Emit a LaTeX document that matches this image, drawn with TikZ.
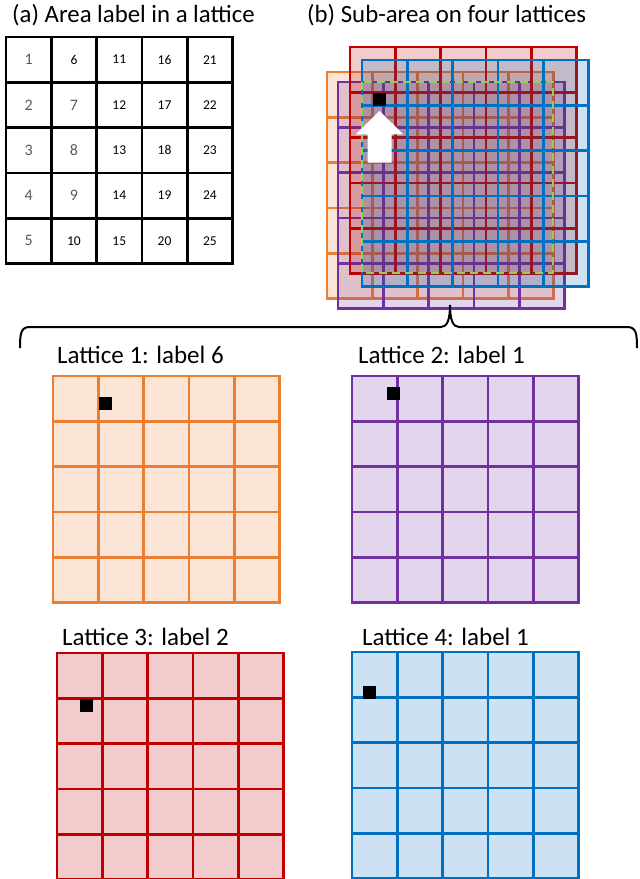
\documentclass[tikz,border=0pt]{standalone}
\usepackage{fontspec}
\setmainfont{Carlito}
\usetikzlibrary{positioning}
\definecolor{latorange}{HTML}{ED7D31}
\definecolor{latpurple}{HTML}{7030A0}
\definecolor{latred}{HTML}{C00000}
\definecolor{latblue}{HTML}{0070C0}
\definecolor{subgreen}{HTML}{92D050}
\definecolor{numgray}{HTML}{595959}
\newcommand{\cellsz}{45.3}
% 5x5 lattice: colour, top-left x, top-left y
\newcommand{\lattice}[3]{%
  \begin{scope}[shift={(#2,#3)}]
    \fill[#1, fill opacity=0.2] (0,0) rectangle (5*\cellsz,5*\cellsz);
    \foreach \i in {0,...,5}{
      \draw[latline, #1] (\i*\cellsz,0) -- (\i*\cellsz,5*\cellsz);
      \draw[latline, #1] (0,\i*\cellsz) -- (5*\cellsz,\i*\cellsz);
    }
  \end{scope}}
% black target cell, given the lattice's top-left corner
\newcommand{\target}[2]{\fill[black] (#1,#2) rectangle ++(13.3,13.3);}

\begin{document}
\begin{tikzpicture}[
  x=1pt, y=-1pt,
  title/.style={anchor=base west, inner sep=0pt, font=\fontsize{24.8}{28}\selectfont},
  latlabel/.style={anchor=base west, inner sep=0pt, font=\fontsize{25}{30}\selectfont},
  latline/.style={line width=2.7pt, line cap=rect},
  numlight/.style={text=numgray, font=\fontsize{16}{18}\selectfont},
  numdark/.style={text=black, font=\fontsize{13.5}{15}\selectfont}
]
\useasboundingbox (0,0) rectangle (640,879);
% --- (a) labels in one lattice ---
\node[title] (ta) at (12,22) {(a) Area label in a lattice};
\foreach \i in {0,...,5}{
  \draw[latline, black] (6+\i*\cellsz,37) -- (6+\i*\cellsz,37+5*\cellsz);
  \draw[latline, black] (6,37+\i*\cellsz) -- (6+5*\cellsz,37+\i*\cellsz);
}
\foreach \c in {0,...,4}
  \foreach \r in {0,...,4}{
    \pgfmathtruncatemacro\k{5*\c+\r+1}
    \pgfmathtruncatemacro\light{(\c==0)||((\c==1)&&(\r>0)&&(\r<4))}
    \ifnum\light=1 \tikzset{numstyle/.style={numlight}}\else\tikzset{numstyle/.style={numdark}}\fi
    \node[numstyle] (n\k) at (6+\c*\cellsz+0.5*\cellsz, 37+\r*\cellsz+0.5*\cellsz) {\k};
  }
% --- (b) four shifted lattices ---
\node[title] (tb) at (307,22) {(b) Sub-area on four lattices};
\lattice{latorange}{327}{72}
\lattice{latpurple}{338}{82}
\lattice{latred}{350}{47}
\lattice{latblue}{362}{60}
\draw[subgreen, line width=2.5pt, dash pattern=on 8pt off 5pt] (362,82) rectangle (553,273);
\target{373}{93}
\fill[white] (379.5,111) -- (403.3,134.3) -- (391.7,134.3) -- (391.7,162.7)
  -- (367.7,162.7) -- (367.7,134.3) -- (355.7,134.3) -- cycle;
% --- brace ---
\draw[line width=2pt] (20,348) .. controls (20,333) and (21,327) .. (30,327) -- (441,327)
  .. controls (447,327) and (450,320) .. (450,305)
  .. controls (450,320) and (453,327) .. (459,327) -- (627,327)
  .. controls (636,327) and (637,333) .. (637,348);
% --- the four lattices one by one ---
\node[latlabel] (l1) at (57,363) {Lattice 1: label 6};
\lattice{latorange}{53}{376}
\target{99}{397}
\node[latlabel] (l2) at (358,363) {Lattice 2: label 1};
\lattice{latpurple}{352}{376}
\target{387}{387}
\node[latlabel] (l3) at (62,645) {Lattice 3: label 2};
\lattice{latred}{57}{653}
\target{79.5}{699}
\node[latlabel] (l4) at (362,645) {Lattice 4: label 1};
\lattice{latblue}{352}{652}
\target{363}{686}
\end{tikzpicture}
\end{document}
